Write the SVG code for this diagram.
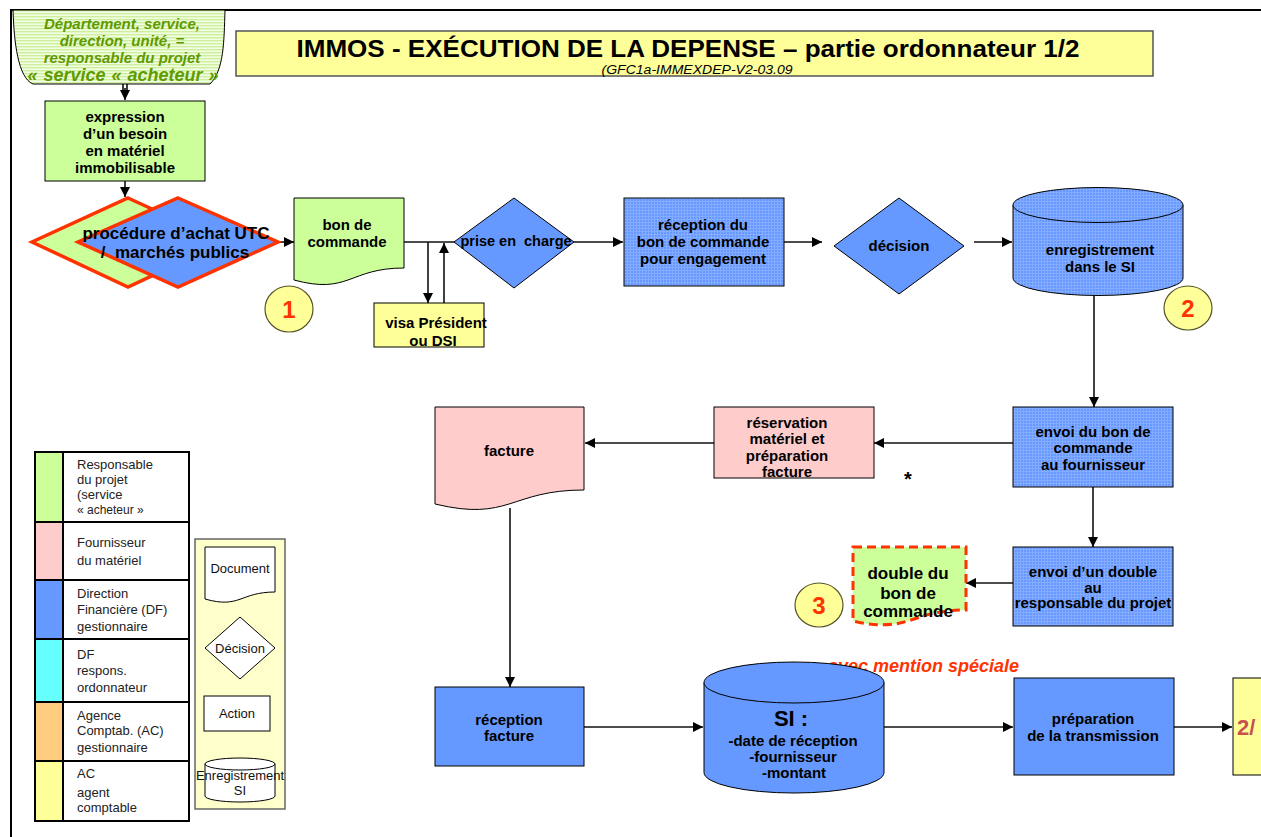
<svg xmlns="http://www.w3.org/2000/svg" width="1261" height="837" viewBox="0 0 1261 837">
  <defs>
    <style>
      text { font-family: "Liberation Sans", Arial, sans-serif; }
      .n { font-weight: bold; font-size: 15px; text-anchor: middle; fill: #000; }
      .hdr { font-weight: bold; font-style: italic; font-size: 15px; text-anchor: middle; fill: #5f9a00; }
      .lg { font-size: 13px; fill: #222; }
      .ic { font-size: 13px; text-anchor: middle; fill: #111; }
      .num { font-weight: bold; font-size: 24px; text-anchor: middle; fill: #ff3300; }
      .edge { stroke: #000; stroke-width: 1; }
      .badge { fill: #ffff99; stroke: #55552a; stroke-width: 1.2; }
      .conn path { fill: none; stroke: #111; stroke-width: 1.6; }
      .conn path.a { marker-end: url(#arrow); }
    </style>
    <marker id="arrow" viewBox="0 0 10 10" refX="10" refY="5" markerWidth="11" markerHeight="10" markerUnits="userSpaceOnUse" orient="auto">
      <path d="M0,0 L10,5 L0,10 Z" fill="#000"/>
    </marker>
    <!-- fine woven texture used on the DF boxes -->
    <pattern id="blueGrid" width="3" height="3" patternUnits="userSpaceOnUse">
      <rect width="3" height="3" fill="#6699ff"/>
      <path d="M0,0.5 H3 M0.5,0 V3" stroke="#86acff" stroke-width="1"/>
    </pattern>
    <!-- striped green for the originating service -->
    <pattern id="greenStripe" width="4" height="3" patternUnits="userSpaceOnUse">
      <rect width="4" height="3" fill="#f3ffe2"/>
      <rect y="1" width="4" height="1.4" fill="#cdee9c"/>
    </pattern>
  </defs>

  <!-- page frame -->
  <path d="M10,10 H1261 M11,10 V837" stroke="#000" stroke-width="2" fill="none"/>

  <!-- title block -->
  <g id="title">
    <rect x="236" y="31" width="917" height="45" fill="#ffff99" stroke="#555" stroke-width="1.5"/>
    <text x="688" y="57" font-size="24" font-weight="bold" text-anchor="middle" textLength="783" lengthAdjust="spacingAndGlyphs">IMMOS - EXÉCUTION DE LA DEPENSE – partie ordonnateur 1/2</text>
    <text x="697" y="74" font-size="12" font-style="italic" text-anchor="middle" textLength="191" lengthAdjust="spacingAndGlyphs">(GFC1a-IMMEXDEP-V2-03.09</text>
  </g>

  <!-- connectors -->
  <g id="connectors" class="conn">
    <path d="M123,84 V92 M127,84 V92"/>
    <path class="a" d="M125,88 V100"/>
    <path class="a" d="M125,181 V197"/>
    <path class="a" d="M278,242 H294"/>
    <path d="M404,242 H455"/>
    <path class="a" d="M428,242 V303"/>
    <path class="a" d="M444,303 V243"/>
    <path class="a" d="M574,242 H623"/>
    <path class="a" d="M784,242 H822"/>
    <path class="a" d="M974,242 H1012"/>
    <path class="a" d="M1094,296 V407"/>
    <path class="a" d="M1013,443 H874"/>
    <path class="a" d="M714,443 H585"/>
    <path class="a" d="M1093,487 V547"/>
    <path class="a" d="M1013,583 H966"/>
    <path class="a" d="M510,508 V687"/>
    <path class="a" d="M584,727 H703"/>
    <path class="a" d="M884,727 H1013"/>
    <path class="a" d="M1174,727 H1232"/>
  </g>

  <!-- originating service -->
  <g id="service">
    <path d="M13,10 H225 C224,42 224,70 210,84 H33 C18,78 14,42 13,10 Z" fill="url(#greenStripe)" stroke="#000" stroke-width="1"/>
    <text class="hdr" x="122" y="29">Département, service,</text>
    <text class="hdr" x="122" y="46">direction, unité, =</text>
    <text class="hdr" x="122" y="63">responsable du projet</text>
    <text class="hdr" x="123" y="81" style="font-size:18px" word-spacing="1">« service « acheteur »</text>
  </g>

  <g id="expression">
    <rect x="45" y="101" width="160" height="80" fill="#ccff99" class="edge"/>
    <text class="n" x="125" y="122">expression</text>
    <text class="n" x="125" y="139">d’un besoin</text>
    <text class="n" x="125" y="156">en matériel</text>
    <text class="n" x="125" y="173">immobilisable</text>
  </g>

  <g id="procedure">
    <path d="M128,198 L224,242 L128,287 L32,242 Z" fill="#ccff99" stroke="#ff3300" stroke-width="3.5" stroke-linejoin="miter"/>
    <path d="M178,198 L278,242 L178,287 L78,242 Z" fill="#6699ff" stroke="#ff3300" stroke-width="3.5" stroke-linejoin="miter"/>
    <text class="n" x="176" y="239" style="font-size:17px">procédure d’achat UTC</text>
    <text class="n" x="175" y="258" style="font-size:17px" xml:space="preserve">/  marchés publics</text>
  </g>

  <g id="bon-de-commande">
    <path d="M294,198 H404 V268 C349,268 349,295 294,280 Z" fill="#ccff99" class="edge"/>
    <text class="n" x="347" y="230">bon de</text>
    <text class="n" x="347" y="247">commande</text>
  </g>

  <g id="badge-1">
    <ellipse cx="289" cy="309" rx="24" ry="23" class="badge"/>
    <text class="num" x="289" y="318">1</text>
  </g>

  <g id="visa">
    <rect x="374" y="303" width="110" height="44" fill="#ffff99" class="edge"/>
    <text class="n" x="436" y="328">visa Président</text>
    <text class="n" x="433" y="346">ou DSI</text>
  </g>

  <g id="prise-en-charge">
    <path d="M514,198 L574,242 L514,288 L454,242 Z" fill="#6699ff" class="edge"/>
    <text class="n" x="516" y="246" style="font-size:14.5px" xml:space="preserve">prise en  charge</text>
  </g>

  <g id="reception-bon">
    <rect x="624" y="198" width="160" height="88" fill="url(#blueGrid)" class="edge"/>
    <text class="n" x="703" y="230">réception du</text>
    <text class="n" x="703" y="247">bon de commande</text>
    <text class="n" x="703" y="264">pour engagement</text>
  </g>

  <g id="decision">
    <path d="M899,198 L964,246 L899,294 L834,246 Z" fill="#6699ff" class="edge"/>
    <text class="n" x="899" y="251">décision</text>
  </g>

  <g id="enregistrement">
    <path d="M1013,205 V278 A85,17.5 0 0 0 1183,278 V205" fill="url(#blueGrid)" class="edge"/>
    <ellipse cx="1098" cy="205" rx="85" ry="17.5" fill="url(#blueGrid)" class="edge"/>
    <text class="n" x="1100" y="255">enregistrement</text>
    <text class="n" x="1100" y="272">dans le SI</text>
  </g>

  <g id="badge-2">
    <ellipse cx="1188" cy="308" rx="24" ry="22" class="badge"/>
    <text class="num" x="1188" y="317">2</text>
  </g>

  <g id="envoi-fournisseur">
    <rect x="1013" y="407" width="160" height="80" fill="url(#blueGrid)" class="edge"/>
    <text class="n" x="1093" y="437">envoi du bon de</text>
    <text class="n" x="1093" y="453">commande</text>
    <text class="n" x="1093" y="470">au fournisseur</text>
  </g>

  <g id="reservation">
    <rect x="714" y="407" width="160" height="71" fill="#ffcccc" class="edge"/>
    <text class="n" x="787" y="428">réservation</text>
    <text class="n" x="787" y="444">matériel et</text>
    <text class="n" x="787" y="461">préparation</text>
    <text class="n" x="787" y="477">facture</text>
  </g>

  <text x="908" y="486" style="font-size:20px;font-weight:bold" text-anchor="middle">*</text>

  <g id="facture">
    <path d="M435,407 H584 V490 C510,490 510,522 435,504 Z" fill="#ffcccc" class="edge"/>
    <text class="n" x="509" y="456">facture</text>
  </g>

  <g id="envoi-double">
    <rect x="1013" y="547" width="160" height="79" fill="url(#blueGrid)" class="edge"/>
    <text class="n" x="1093" y="577">envoi d’un double</text>
    <text class="n" x="1093" y="593">au</text>
    <text class="n" x="1093" y="608">responsable du projet</text>
  </g>

  <g id="double-bon">
    <path d="M853,547 H966 V610 C910,610 910,634 853,621 Z" fill="#ccff99" stroke="#ff3300" stroke-width="3" stroke-dasharray="9,5"/>
    <text class="n" x="908" y="579" style="font-size:17px">double du</text>
    <text class="n" x="908" y="599" style="font-size:17px">bon de</text>
    <text class="n" x="908" y="617" style="font-size:17px">commande</text>
  </g>

  <g id="badge-3">
    <ellipse cx="819" cy="605" rx="24" ry="22" class="badge"/>
    <text class="num" x="819" y="614">3</text>
  </g>

  <text x="1019" y="672" style="font-size:18px;font-weight:bold;font-style:italic" fill="#ff3300" text-anchor="end">avec mention spéciale</text>

  <g id="reception-facture">
    <rect x="435" y="687" width="149" height="79" fill="#6699ff" class="edge"/>
    <text class="n" x="509" y="725">réception</text>
    <text class="n" x="509" y="741">facture</text>
  </g>

  <g id="si">
    <path d="M704,682.5 V772.5 A90,20.5 0 0 0 884,772.5 V682.5" fill="#6699ff" class="edge"/>
    <ellipse cx="794" cy="682.5" rx="90" ry="20.5" fill="#6699ff" class="edge"/>
    <text class="n" x="791" y="726" style="font-size:22px">SI :</text>
    <text class="n" x="793" y="746">-date de réception</text>
    <text class="n" x="793" y="762">-fournisseur</text>
    <text class="n" x="794" y="778">-montant</text>
  </g>

  <g id="preparation">
    <rect x="1014" y="678" width="160" height="97" fill="#6699ff" class="edge"/>
    <text class="n" x="1093" y="724">préparation</text>
    <text class="n" x="1093" y="741">de la transmission</text>
  </g>

  <g id="suite">
    <rect x="1233" y="678" width="40" height="97" fill="#ffff99" class="edge"/>
    <text x="1237" y="735" style="font-size:22px;font-weight:bold" fill="#c9504f">2/</text>
  </g>

  <!-- actor colour legend -->
  <g id="legend-actors">
    <rect x="35" y="452" width="28" height="70" fill="#ccff99"/>
    <rect x="35" y="522" width="28" height="58" fill="#ffcccc"/>
    <rect x="35" y="580" width="28" height="59" fill="#6699ff"/>
    <rect x="35" y="639" width="28" height="63" fill="#66ffff"/>
    <rect x="35" y="702" width="28" height="59" fill="#ffcc80"/>
    <rect x="35" y="761" width="28" height="60" fill="#ffff99"/>
    <path d="M35,452 H189 V821 H35 Z M63,452 V821 M35,522 H189 M35,580 H189 M35,639 H189 M35,702 H189 M35,761 H189" fill="none" stroke="#000" stroke-width="2"/>
    <text class="lg" x="77" y="469">Responsable</text>
    <text class="lg" x="77" y="484">du projet</text>
    <text class="lg" x="77" y="499">(service</text>
    <text class="lg" x="77" y="514" style="font-size:12px">« acheteur »</text>
    <text class="lg" x="77" y="547">Fournisseur</text>
    <text class="lg" x="77" y="565">du matériel</text>
    <text class="lg" x="77" y="598">Direction</text>
    <text class="lg" x="77" y="614">Financière (DF)</text>
    <text class="lg" x="77" y="631">gestionnaire</text>
    <text class="lg" x="77" y="659">DF</text>
    <text class="lg" x="77" y="675">respons.</text>
    <text class="lg" x="77" y="692">ordonnateur</text>
    <text class="lg" x="77" y="720">Agence</text>
    <text class="lg" x="77" y="735">Comptab. (AC)</text>
    <text class="lg" x="77" y="752">gestionnaire</text>
    <text class="lg" x="77" y="778">AC</text>
    <text class="lg" x="77" y="797">agent</text>
    <text class="lg" x="77" y="812">comptable</text>
  </g>

  <!-- shape legend -->
  <g id="legend-shapes">
    <rect x="195" y="539" width="90" height="270" fill="#ffffcc" stroke="#666" stroke-width="1.5"/>
    <path d="M205,547 H275 V592 C240,592 240,609 205,599 Z" fill="#fff" class="edge"/>
    <text class="ic" x="240" y="573">Document</text>
    <path d="M240,617 L275,648 L240,679 L205,648 Z" fill="#fff" class="edge"/>
    <text class="ic" x="240" y="653">Décision</text>
    <rect x="204" y="696" width="66" height="35" fill="#fff" class="edge"/>
    <text class="ic" x="237" y="718">Action</text>
    <path d="M205,764 V796 A35,6 0 0 0 275,796 V764" fill="#fff" class="edge"/>
    <ellipse cx="240" cy="764" rx="35" ry="6" fill="#fff" class="edge"/>
    <text class="ic" x="240" y="780">Enregistrement</text>
    <text class="ic" x="240" y="795">SI</text>
  </g>
</svg>
